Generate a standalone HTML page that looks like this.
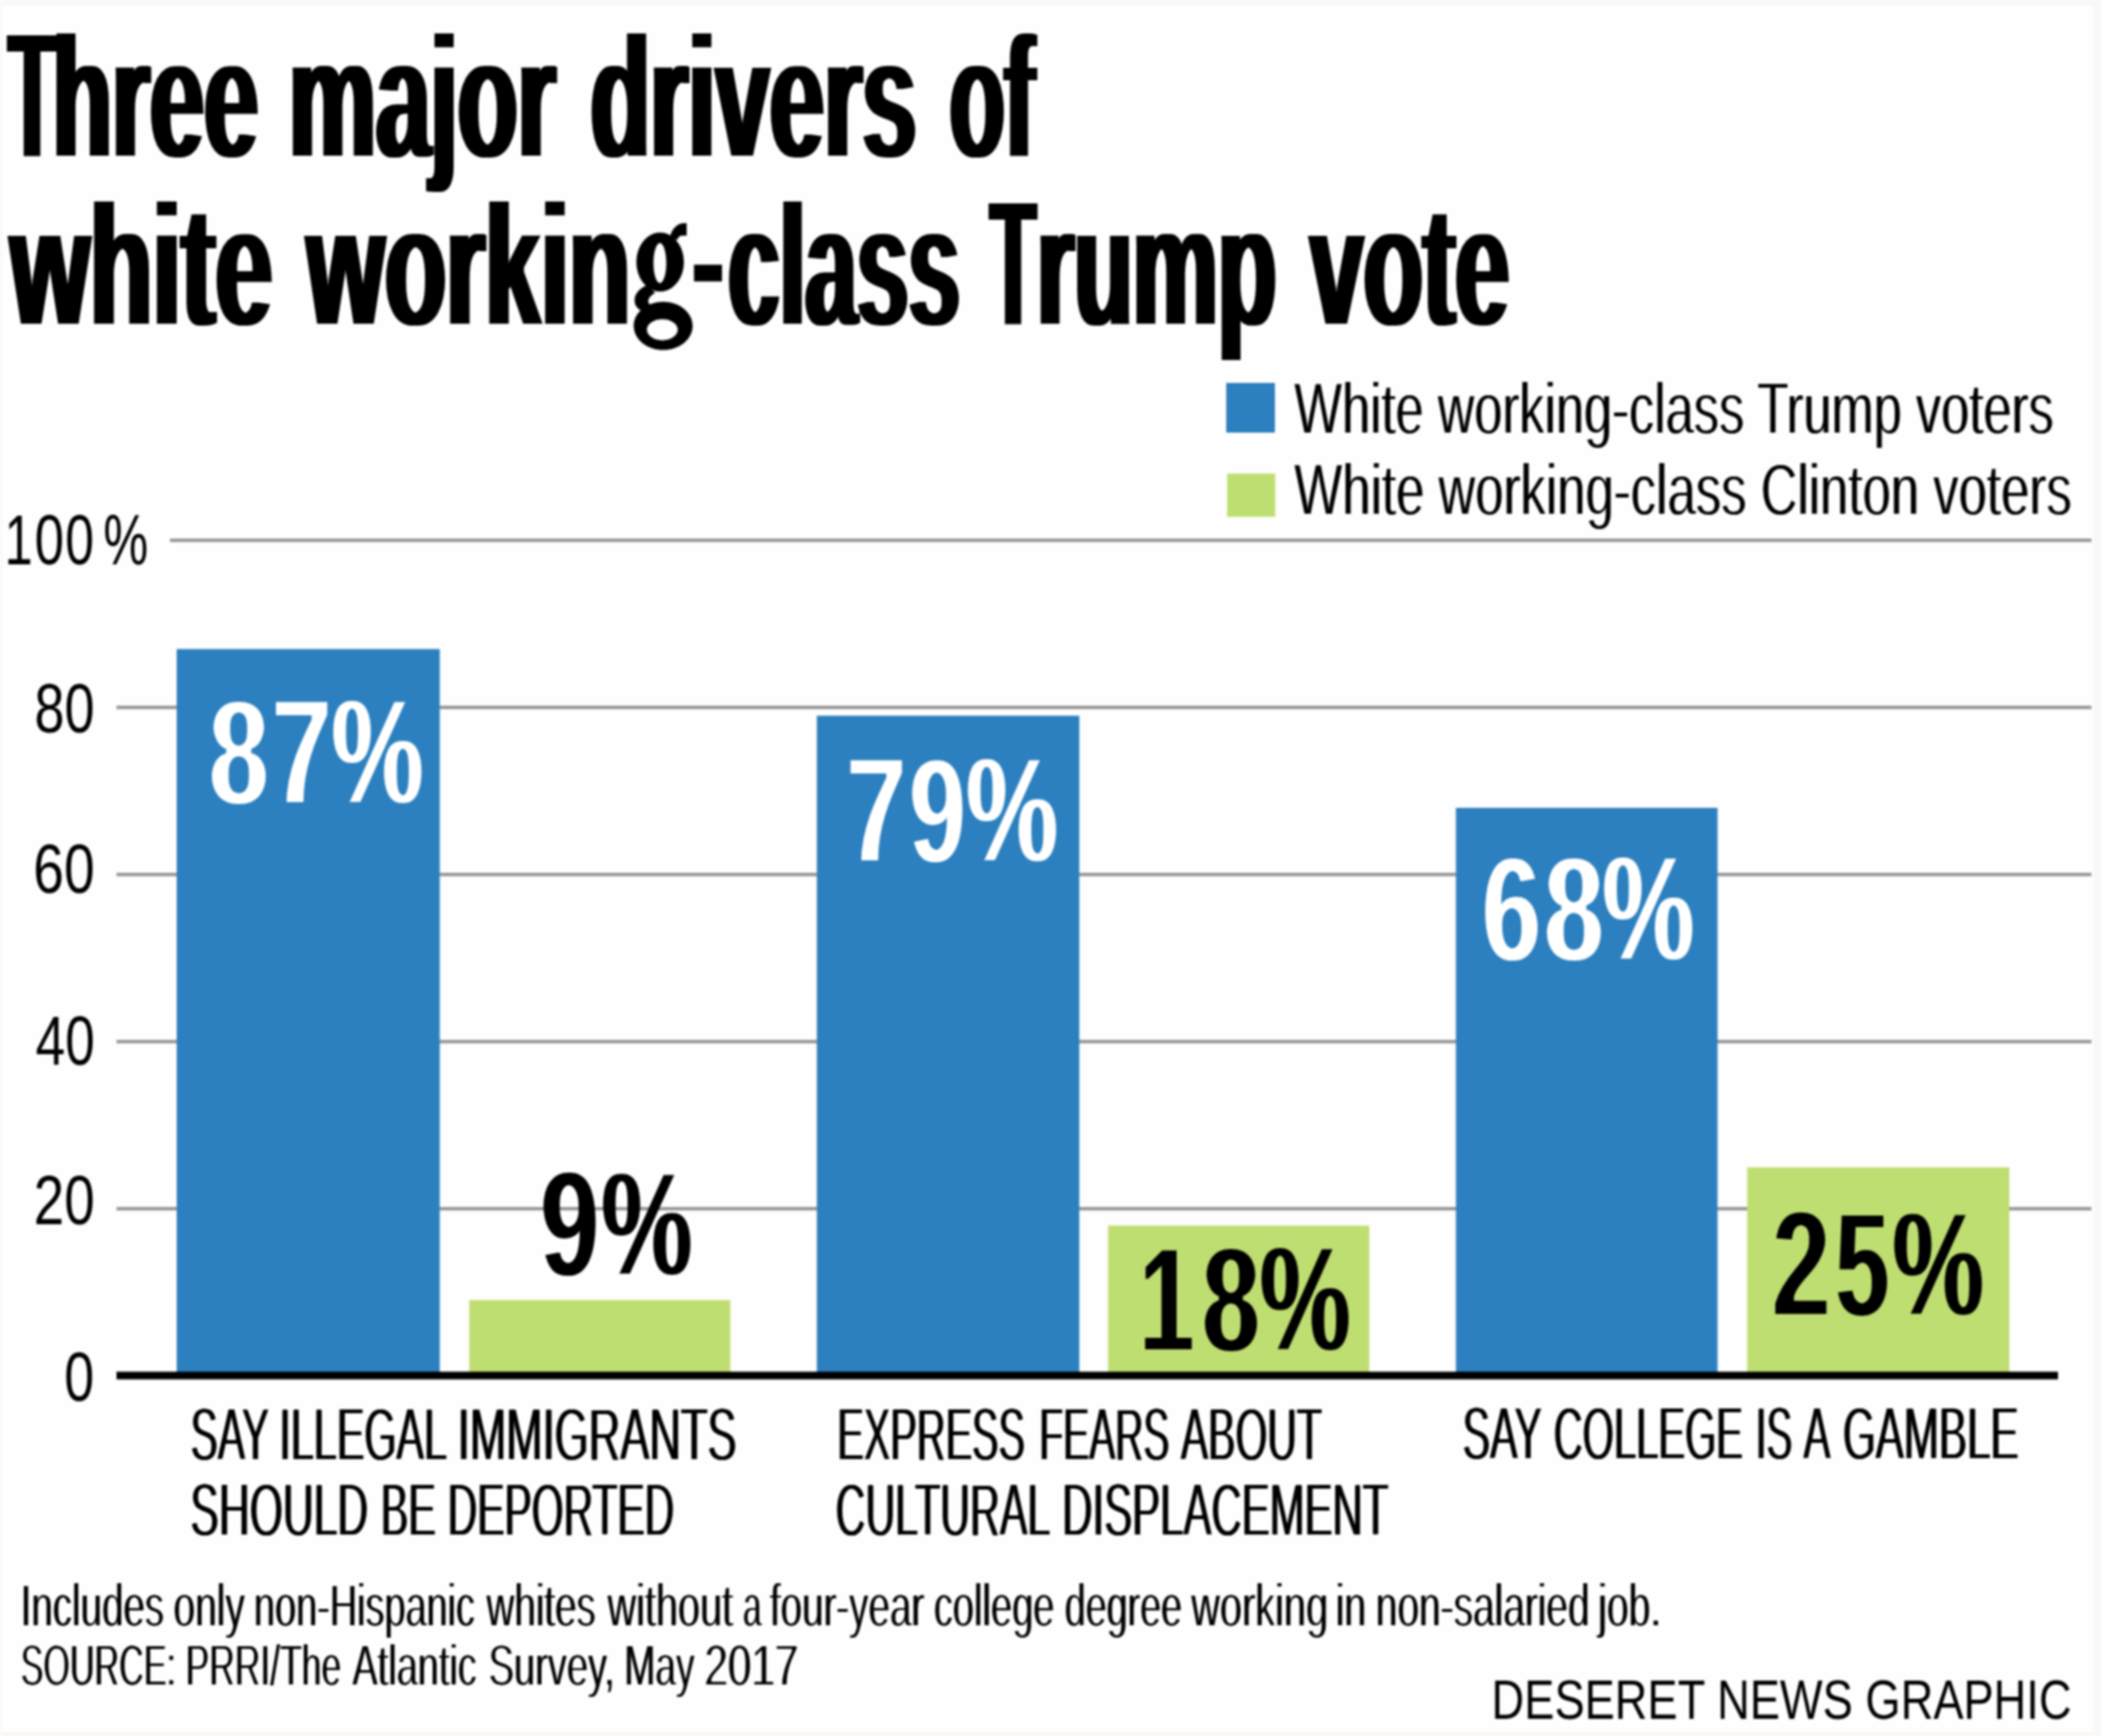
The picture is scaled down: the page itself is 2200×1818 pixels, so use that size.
<!DOCTYPE html>
<html><head><meta charset="utf-8"><title>Three major drivers of white working-class Trump vote</title>
<style>html,body{margin:0;padding:0;background:#fff;overflow:hidden;} svg{display:block;filter:blur(1px);} text{font-family:"Liberation Sans",sans-serif;}</style>
</head><body>
<svg xmlns="http://www.w3.org/2000/svg" width="2200" height="1818" viewBox="0 0 2200 1818" font-family="Liberation Sans, sans-serif"><defs><filter id="m3_2" x="-5%" y="-20%" width="110%" height="140%"><feMorphology operator="dilate" radius="3 0" result="d"/><feMorphology in="d" operator="erode" radius="0 2"/></filter><filter id="m0_1" x="-5%" y="-20%" width="110%" height="140%"><feMorphology operator="erode" radius="0 1"/></filter><filter id="m1_2" x="-5%" y="-20%" width="110%" height="140%"><feMorphology operator="dilate" radius="1 0" result="d"/><feMorphology in="d" operator="erode" radius="0 2"/></filter></defs>
<rect x="0" y="0" width="2200" height="1818" fill="#f9f8f6"/>
<rect x="2" y="5" width="2190" height="1809" fill="#fefefe"/>
<rect x="178" y="564.05" width="2012" height="3.5" fill="#949494"/>
<rect x="122" y="739.05" width="2068" height="3.5" fill="#949494"/>
<rect x="122" y="914.05" width="2068" height="3.5" fill="#949494"/>
<rect x="122" y="1089.05" width="2068" height="3.5" fill="#949494"/>
<rect x="122" y="1264.05" width="2068" height="3.5" fill="#949494"/>
<rect x="185.0" y="679.7" width="275.5" height="761.3" fill="#2c80bf"/>
<rect x="491.3" y="1361.5" width="273.4" height="79.5" fill="#bfde71"/>
<rect x="855.3" y="749.5" width="274.9" height="691.5" fill="#2c80bf"/>
<rect x="1160.3" y="1283.5" width="273.5" height="157.5" fill="#bfde71"/>
<rect x="1524.5" y="846.0" width="274.0" height="595.0" fill="#2c80bf"/>
<rect x="1829.5" y="1222.5" width="274.5" height="218.5" fill="#bfde71"/>
<rect x="122" y="1436.5" width="2033" height="8" fill="#000"/>
<rect x="1284" y="401" width="51" height="52" fill="#2c80bf"/>
<rect x="1285" y="496" width="50.3" height="45.2" fill="#bfde71"/>
<g filter="url(#m3_2)"><text transform="translate(9.13,165.00) scale(0.43738,1.0390)" font-weight="700" font-size="181.81" fill="#000">T</text></g>
<g filter="url(#m3_2)"><text transform="translate(55.01,165.00) scale(0.56082,1.0000)" font-weight="700" font-size="181.81" fill="#000">hree</text></g>
<g filter="url(#m3_2)"><text transform="translate(302.43,165.00) scale(0.56458,1.0000)" font-weight="700" font-size="181.81" fill="#000">major</text></g>
<g filter="url(#m3_2)"><text transform="translate(618.36,165.00) scale(0.56284,1.0000)" font-weight="700" font-size="181.81" fill="#000">drivers</text></g>
<g filter="url(#m3_2)"><text transform="translate(994.38,165.00) scale(0.51697,1.0000)" font-weight="700" font-size="181.81" fill="#000">of</text></g>
<g filter="url(#m3_2)"><text transform="translate(10.50,340.80) scale(0.59127,1.0000)" font-weight="700" font-size="181.81" fill="#000">white</text></g>
<g filter="url(#m3_2)"><text transform="translate(321.10,340.80) scale(0.57843,1.0000)" font-weight="700" font-size="181.81" fill="#000">workin</text></g>
<g filter="url(#m3_2)"><text transform="translate(762.47,340.80) scale(0.53318,1.0000)" font-weight="700" font-size="181.81" fill="#000">class</text></g>
<g filter="url(#m3_2)"><text transform="translate(1037.35,340.80) scale(0.42430,1.0390)" font-weight="700" font-size="181.81" fill="#000">T</text></g>
<g filter="url(#m3_2)"><text transform="translate(1085.78,340.80) scale(0.55195,1.0000)" font-weight="700" font-size="181.81" fill="#000">rump</text></g>
<g filter="url(#m3_2)"><text transform="translate(1371.14,340.80) scale(0.55995,1.0000)" font-weight="700" font-size="181.81" fill="#000">vote</text></g>
<g filter="url(#m0_1)" font-weight="400" font-size="76.31" fill="#000"><text transform="translate(1355.01,453.70) scale(0.69465,1.0000)">White working-class Trump voters</text><text transform="translate(1355.61,453.70) scale(0.69465,1.0000)">White working-class Trump voters</text></g>
<g filter="url(#m0_1)" font-weight="400" font-size="76.91" fill="#000"><text transform="translate(1355.01,539.00) scale(0.69274,1.0000)">White working-class Clinton voters</text><text transform="translate(1355.61,539.00) scale(0.69274,1.0000)">White working-class Clinton voters</text></g>
<text transform="translate(36.07,767.00) scale(0.77733,1.0000)" font-weight="400" font-size="73.00" fill="#000">80</text>
<text transform="translate(34.83,935.30) scale(0.79324,1.0000)" font-weight="400" font-size="73.00" fill="#000">60</text>
<text transform="translate(37.17,1115.00) scale(0.76316,1.0000)" font-weight="400" font-size="73.00" fill="#000">40</text>
<text transform="translate(35.25,1282.00) scale(0.78784,1.0000)" font-weight="400" font-size="73.00" fill="#000">20</text>
<text transform="translate(67.29,1466.60) scale(0.77143,1.0000)" font-weight="400" font-size="73.00" fill="#000">0</text>
<g filter="url(#m1_2)"><text transform="translate(219.17,842.00) scale(0.70519,1.0000)" font-weight="700" font-size="156.81" fill="#fff">8</text></g>
<g filter="url(#m1_2)"><text transform="translate(285.19,842.00) scale(0.70137,1.0000)" font-weight="700" font-size="156.81" fill="#fff">7</text></g>
<g filter="url(#m1_2)"><text transform="translate(347.35,842.00) scale(0.68855,1.0000)" font-weight="700" font-size="156.81" fill="#fff">%</text></g>
<g filter="url(#m1_2)"><text transform="translate(566.13,1335.50) scale(0.69342,1.0000)" font-weight="700" font-size="156.81" fill="#000">9</text></g>
<g filter="url(#m1_2)"><text transform="translate(629.67,1335.50) scale(0.68244,1.0000)" font-weight="700" font-size="156.81" fill="#000">%</text></g>
<g filter="url(#m1_2)"><text transform="translate(887.09,903.00) scale(0.70137,1.0000)" font-weight="700" font-size="156.81" fill="#fff">7</text></g>
<g filter="url(#m1_2)"><text transform="translate(952.47,903.00) scale(0.66579,1.0000)" font-weight="700" font-size="156.81" fill="#fff">9</text></g>
<g filter="url(#m1_2)"><text transform="translate(1011.75,903.00) scale(0.68855,1.0000)" font-weight="700" font-size="156.81" fill="#fff">%</text></g>
<g filter="url(#m1_2)"><text transform="translate(1193.79,1414.50) scale(0.64110,1.0000)" font-weight="700" font-size="156.81" fill="#000">1</text></g>
<g filter="url(#m1_2)"><text transform="translate(1259.30,1414.50) scale(0.68052,1.0000)" font-weight="700" font-size="156.81" fill="#000">8</text></g>
<g filter="url(#m1_2)"><text transform="translate(1319.28,1414.50) scale(0.67939,1.0000)" font-weight="700" font-size="156.81" fill="#000">%</text></g>
<g filter="url(#m1_2)"><text transform="translate(1552.21,1006.30) scale(0.69867,1.0000)" font-weight="700" font-size="156.81" fill="#fff">6</text></g>
<g filter="url(#m1_2)"><text transform="translate(1617.17,1006.30) scale(0.70519,1.0000)" font-weight="700" font-size="156.81" fill="#fff">8</text></g>
<g filter="url(#m1_2)"><text transform="translate(1677.95,1006.30) scale(0.68855,1.0000)" font-weight="700" font-size="156.81" fill="#fff">%</text></g>
<g filter="url(#m1_2)"><text transform="translate(1856.19,1378.00) scale(0.68158,1.0000)" font-weight="700" font-size="156.81" fill="#000">2</text></g>
<g filter="url(#m1_2)"><text transform="translate(1921.89,1378.00) scale(0.64103,1.0000)" font-weight="700" font-size="156.81" fill="#000">5</text></g>
<g filter="url(#m1_2)"><text transform="translate(1981.76,1378.00) scale(0.68397,1.0000)" font-weight="700" font-size="156.81" fill="#000">%</text></g>
<text transform="translate(4.71,591.00) scale(0.71562,1.0000)" font-weight="400" font-size="74.00" fill="#000">1</text>
<text transform="translate(36.35,591.00) scale(0.74857,1.0000)" font-weight="400" font-size="74.00" fill="#000">0</text>
<text transform="translate(68.30,591.00) scale(0.73429,1.0000)" font-weight="400" font-size="74.00" fill="#000">0</text>
<text transform="translate(108.36,591.00) scale(0.71333,1.0000)" font-weight="400" font-size="74.00" fill="#000">%</text>
<g filter="url(#m0_1)" font-weight="400" font-size="77.91" fill="#000"><text transform="translate(198.71,1528.70) scale(0.54861,1.0000)">SAY</text><text transform="translate(199.46,1528.70) scale(0.54861,1.0000)">SAY</text><text transform="translate(200.21,1528.70) scale(0.54861,1.0000)">SAY</text></g>
<g filter="url(#m0_1)" font-weight="400" font-size="77.91" fill="#000"><text transform="translate(291.82,1528.70) scale(0.55490,1.0000)">ILLEGAL</text><text transform="translate(292.57,1528.70) scale(0.55490,1.0000)">ILLEGAL</text><text transform="translate(293.32,1528.70) scale(0.55490,1.0000)">ILLEGAL</text></g>
<g filter="url(#m0_1)" font-weight="400" font-size="77.91" fill="#000"><text transform="translate(478.59,1528.70) scale(0.58665,1.0000)">IMMIGRANTS</text><text transform="translate(479.34,1528.70) scale(0.58665,1.0000)">IMMIGRANTS</text><text transform="translate(480.09,1528.70) scale(0.58665,1.0000)">IMMIGRANTS</text></g>
<g filter="url(#m0_1)" font-weight="400" font-size="77.91" fill="#000"><text transform="translate(198.61,1607.50) scale(0.57350,1.0000)">SHOULD</text><text transform="translate(199.36,1607.50) scale(0.57350,1.0000)">SHOULD</text><text transform="translate(200.11,1607.50) scale(0.57350,1.0000)">SHOULD</text></g>
<g filter="url(#m0_1)" font-weight="400" font-size="77.91" fill="#000"><text transform="translate(397.97,1607.50) scale(0.55579,1.0000)">BE</text><text transform="translate(398.72,1607.50) scale(0.55579,1.0000)">BE</text><text transform="translate(399.47,1607.50) scale(0.55579,1.0000)">BE</text></g>
<g filter="url(#m0_1)" font-weight="400" font-size="77.91" fill="#000"><text transform="translate(468.00,1607.50) scale(0.55012,1.0000)">DEPORTED</text><text transform="translate(468.75,1607.50) scale(0.55012,1.0000)">DEPORTED</text><text transform="translate(469.50,1607.50) scale(0.55012,1.0000)">DEPORTED</text></g>
<g filter="url(#m0_1)" font-weight="400" font-size="77.91" fill="#000"><text transform="translate(876.10,1528.70) scale(0.53408,1.0000)">EXPRESS</text><text transform="translate(876.85,1528.70) scale(0.53408,1.0000)">EXPRESS</text><text transform="translate(877.60,1528.70) scale(0.53408,1.0000)">EXPRESS</text></g>
<g filter="url(#m0_1)" font-weight="400" font-size="77.91" fill="#000"><text transform="translate(1087.45,1528.70) scale(0.52520,1.0000)">FEARS</text><text transform="translate(1088.20,1528.70) scale(0.52520,1.0000)">FEARS</text><text transform="translate(1088.95,1528.70) scale(0.52520,1.0000)">FEARS</text></g>
<g filter="url(#m0_1)" font-weight="400" font-size="77.91" fill="#000"><text transform="translate(1235.75,1528.70) scale(0.55038,1.0000)">ABOUT</text><text transform="translate(1236.50,1528.70) scale(0.55038,1.0000)">ABOUT</text><text transform="translate(1237.25,1528.70) scale(0.55038,1.0000)">ABOUT</text></g>
<g filter="url(#m0_1)" font-weight="400" font-size="77.91" fill="#000"><text transform="translate(874.18,1607.50) scale(0.55464,1.0000)">CULTURAL</text><text transform="translate(874.93,1607.50) scale(0.55464,1.0000)">CULTURAL</text><text transform="translate(875.68,1607.50) scale(0.55464,1.0000)">CULTURAL</text></g>
<g filter="url(#m0_1)" font-weight="400" font-size="77.91" fill="#000"><text transform="translate(1111.52,1607.50) scale(0.56371,1.0000)">DISPLACEMENT</text><text transform="translate(1112.27,1607.50) scale(0.56371,1.0000)">DISPLACEMENT</text><text transform="translate(1113.02,1607.50) scale(0.56371,1.0000)">DISPLACEMENT</text></g>
<g filter="url(#m0_1)" font-weight="400" font-size="77.91" fill="#000"><text transform="translate(1530.68,1528.40) scale(0.55417,1.0000)">SAY</text><text transform="translate(1531.43,1528.40) scale(0.55417,1.0000)">SAY</text><text transform="translate(1532.18,1528.40) scale(0.55417,1.0000)">SAY</text></g>
<g filter="url(#m0_1)" font-weight="400" font-size="77.91" fill="#000"><text transform="translate(1626.35,1528.40) scale(0.53767,1.0000)">COLLEGE</text><text transform="translate(1627.10,1528.40) scale(0.53767,1.0000)">COLLEGE</text><text transform="translate(1627.85,1528.40) scale(0.53767,1.0000)">COLLEGE</text></g>
<g filter="url(#m0_1)" font-weight="400" font-size="77.91" fill="#000"><text transform="translate(1837.67,1528.40) scale(0.51905,1.0000)">IS</text><text transform="translate(1838.42,1528.40) scale(0.51905,1.0000)">IS</text><text transform="translate(1839.17,1528.40) scale(0.51905,1.0000)">IS</text></g>
<g filter="url(#m0_1)" font-weight="400" font-size="77.91" fill="#000"><text transform="translate(1887.86,1528.40) scale(0.54200,1.0000)">A</text><text transform="translate(1888.61,1528.40) scale(0.54200,1.0000)">A</text><text transform="translate(1889.36,1528.40) scale(0.54200,1.0000)">A</text></g>
<g filter="url(#m0_1)" font-weight="400" font-size="77.91" fill="#000"><text transform="translate(1928.93,1528.40) scale(0.56688,1.0000)">GAMBLE</text><text transform="translate(1929.68,1528.40) scale(0.56688,1.0000)">GAMBLE</text><text transform="translate(1930.43,1528.40) scale(0.56688,1.0000)">GAMBLE</text></g>
<g filter="url(#m0_1)" font-weight="400" font-size="62.41" fill="#000"><text transform="translate(21.22,1703.20) scale(0.64643,1.0000)">Includes</text><text transform="translate(22.02,1703.20) scale(0.64643,1.0000)">Includes</text></g>
<g filter="url(#m0_1)" font-weight="400" font-size="62.41" fill="#000"><text transform="translate(181.24,1703.20) scale(0.65315,1.0000)">only</text><text transform="translate(182.04,1703.20) scale(0.65315,1.0000)">only</text></g>
<g filter="url(#m0_1)" font-weight="400" font-size="62.41" fill="#000"><text transform="translate(265.56,1703.20) scale(0.63547,1.0000)">non-Hispanic</text><text transform="translate(266.36,1703.20) scale(0.63547,1.0000)">non-Hispanic</text></g>
<g filter="url(#m0_1)" font-weight="400" font-size="62.41" fill="#000"><text transform="translate(509.00,1703.20) scale(0.64743,1.0000)">whites</text><text transform="translate(509.80,1703.20) scale(0.64743,1.0000)">whites</text></g>
<g filter="url(#m0_1)" font-weight="400" font-size="62.41" fill="#000"><text transform="translate(635.70,1703.20) scale(0.66548,1.0000)">without</text><text transform="translate(636.50,1703.20) scale(0.66548,1.0000)">without</text></g>
<g filter="url(#m0_1)" font-weight="400" font-size="62.41" fill="#000"><text transform="translate(777.51,1703.20) scale(0.56250,1.0000)">a</text><text transform="translate(778.31,1703.20) scale(0.56250,1.0000)">a</text></g>
<g filter="url(#m0_1)" font-weight="400" font-size="62.41" fill="#000"><text transform="translate(805.75,1703.20) scale(0.64718,1.0000)">four-year</text><text transform="translate(806.55,1703.20) scale(0.64718,1.0000)">four-year</text></g>
<g filter="url(#m0_1)" font-weight="400" font-size="62.41" fill="#000"><text transform="translate(977.38,1703.20) scale(0.63906,1.0000)">college</text><text transform="translate(978.18,1703.20) scale(0.63906,1.0000)">college</text></g>
<g filter="url(#m0_1)" font-weight="400" font-size="62.41" fill="#000"><text transform="translate(1114.50,1703.20) scale(0.63191,1.0000)">degree</text><text transform="translate(1115.30,1703.20) scale(0.63191,1.0000)">degree</text></g>
<g filter="url(#m0_1)" font-weight="400" font-size="62.41" fill="#000"><text transform="translate(1247.00,1703.20) scale(0.66635,1.0000)">working</text><text transform="translate(1247.80,1703.20) scale(0.66635,1.0000)">working</text></g>
<g filter="url(#m0_1)" font-weight="400" font-size="62.41" fill="#000"><text transform="translate(1398.16,1703.20) scale(0.66000,1.0000)">in</text><text transform="translate(1398.96,1703.20) scale(0.66000,1.0000)">in</text></g>
<g filter="url(#m0_1)" font-weight="400" font-size="62.41" fill="#000"><text transform="translate(1440.29,1703.20) scale(0.65164,1.0000)">non-salaried</text><text transform="translate(1441.09,1703.20) scale(0.65164,1.0000)">non-salaried</text></g>
<g filter="url(#m0_1)" font-weight="400" font-size="62.41" fill="#000"><text transform="translate(1673.11,1703.20) scale(0.65567,1.0000)">job.</text><text transform="translate(1673.91,1703.20) scale(0.65567,1.0000)">job.</text></g>
<g filter="url(#m0_1)" font-weight="400" font-size="61.91" fill="#000"><text transform="translate(21.27,1765.00) scale(0.57656,1.0000)">SOURCE:</text><text transform="translate(22.07,1765.00) scale(0.57656,1.0000)">SOURCE:</text></g>
<g filter="url(#m0_1)" font-weight="400" font-size="61.91" fill="#000"><text transform="translate(193.90,1765.00) scale(0.59962,1.0000)">PRRI/The</text><text transform="translate(194.70,1765.00) scale(0.59962,1.0000)">PRRI/The</text></g>
<g filter="url(#m0_1)" font-weight="400" font-size="61.91" fill="#000"><text transform="translate(368.60,1765.00) scale(0.64179,1.0000)">Atlantic</text><text transform="translate(369.40,1765.00) scale(0.64179,1.0000)">Atlantic</text></g>
<g filter="url(#m0_1)" font-weight="400" font-size="61.91" fill="#000"><text transform="translate(511.17,1765.00) scale(0.64416,1.0000)">Survey,</text><text transform="translate(511.97,1765.00) scale(0.64416,1.0000)">Survey,</text></g>
<g filter="url(#m0_1)" font-weight="400" font-size="61.91" fill="#000"><text transform="translate(653.36,1765.00) scale(0.62857,1.0000)">May</text><text transform="translate(654.16,1765.00) scale(0.62857,1.0000)">May</text></g>
<g filter="url(#m0_1)" font-weight="400" font-size="61.91" fill="#000"><text transform="translate(737.15,1765.00) scale(0.71515,1.0000)">2017</text><text transform="translate(737.95,1765.00) scale(0.71515,1.0000)">2017</text></g>
<text transform="translate(1561.82,1800.00) scale(0.83588,1.0000)" font-weight="400" font-size="56.70" fill="#000">DESERET NEWS GRAPHIC</text>
<g fill="#000"><path d="M691.25,243.50 C704.97,243.50 716.10,257.33 716.10,274.40 C716.10,291.47 704.97,305.30 691.25,305.30 C677.53,305.30 666.40,291.47 666.40,274.40 C666.40,257.33 677.53,243.50 691.25,243.50 Z M691.00,254.60 C694.70,254.60 697.70,263.98 697.70,275.55 C697.70,287.12 694.70,296.50 691.00,296.50 C687.30,296.50 684.30,287.12 684.30,275.55 C684.30,263.98 687.30,254.60 691.00,254.60 Z " fill-rule="evenodd"/><path d="M701.5,248 C703.5,239.5 709.5,233.8 716,233.8 L719,233.8 L719,246.7 L714.5,246.7 C711.5,246.7 710,248.5 709,251.5 Z"/><path d="M677.5,298.5 C669,302.5 664.5,308 664.5,314.5 C664.5,320.5 668.5,324.5 674.5,326.5 L681,328.5 L685,321.5 C681,320 678.5,318 678.8,315 C679.2,311.5 682,309 686,306.5 Z"/><path d="M694.45,315.90 C711.49,315.90 725.30,327.23 725.30,341.20 C725.30,355.17 711.49,366.50 694.45,366.50 C677.41,366.50 663.60,355.17 663.60,341.20 C663.60,327.23 677.41,315.90 694.45,315.90 Z M693.55,334.30 C702.47,334.30 709.70,339.25 709.70,345.35 C709.70,351.45 702.47,356.40 693.55,356.40 C684.63,356.40 677.40,351.45 677.40,345.35 C677.40,339.25 684.63,334.30 693.55,334.30 Z " fill-rule="evenodd"/><rect x="726.7" y="277.2" width="29.3" height="17.5"/></g></svg>
</body></html>
